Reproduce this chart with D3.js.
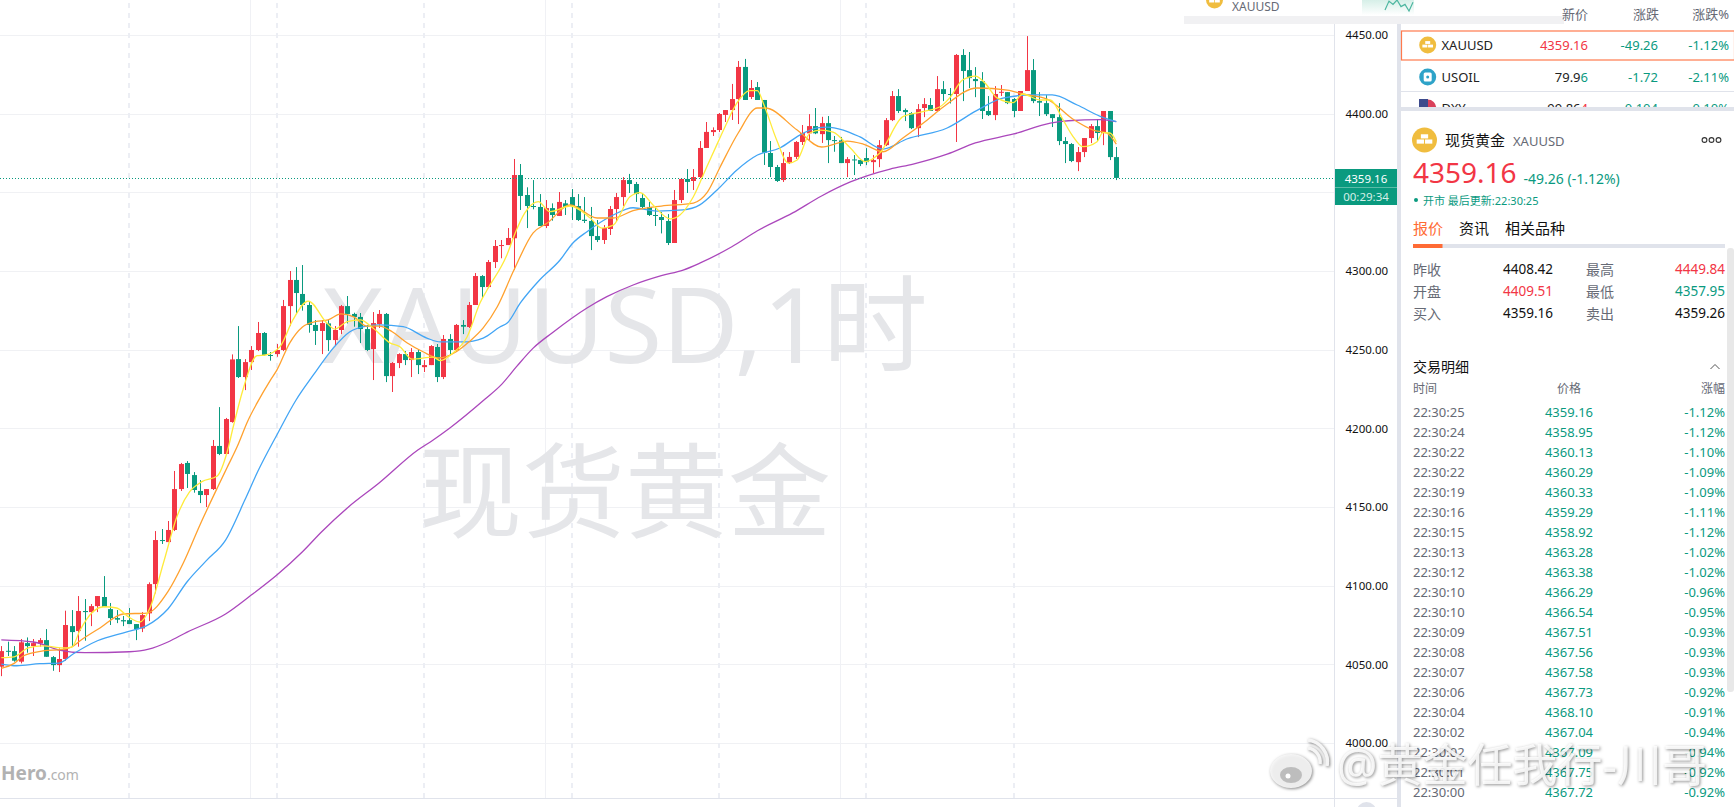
<!DOCTYPE html>
<html>
<head>
<meta charset="utf-8">
<script src="https://cdn.jsdelivr.net/npm/d3@7"></script>
<style>
  html, body { margin: 0; padding: 0; background: #fff; overflow: hidden; }
  svg { display: block; }
  text { font-family: "Noto Sans", "Noto Sans CJK SC", sans-serif; }
</style>
</head>
<body>
<div id="chart"></div>
<script>
// candles, one value per hour bar
const opens = [
  4048.5,4058.6,4058.4,4051.7,4063.5,4061.6,4063.3,4065.4,4054.6,4049.5,
  4053.4,4074.3,4071.2,4083.9,4083.2,4087,4092.8,4085.1,4079.4,4078.1,
  4078.1,4075.6,4072.8,4082.4,4101,4129,4127.7,4135.4,4161.4,4178,
  4170.3,4160.2,4157.6,4161.4,4188.8,4183.7,4204,4244,4232.6,4242.1,
  4249.8,4260.6,4246.6,4247.2,4249.8,4277.7,4294.3,4285.4,4278.4,4265.7,
  4261.9,4266.7,4256.1,4262.5,4277.7,4272.7,4270.8,4263.1,4250.4,4266.3,
  4272.7,4233.2,4241.5,4247.2,4243.4,4248.5,4238.9,4240.2,4251.7,4232.6,
  4256.8,4249.8,4265.7,4264.4,4278.4,4296.8,4289.8,4305.7,4316.1,4316.5,
  4320.8,4361,4348.3,4341.3,4340.7,4328.6,4340,4335,4343,4347,
  4341.3,4332.6,4331.8,4322.2,4319.7,4326.7,4339.4,4347,4357.8,4355.3,
  4346.4,4340.7,4335.6,4334.3,4331.8,4317.8,4345.1,4358.5,4357.2,4359.7,
  4378.2,4388.3,4389.6,4399.2,4402.3,4409.3,4429.7,4410.6,4416.9,4408.7,
  4375,4366.1,4357.8,4368.6,4372.5,4382,4387.5,4392.1,4387,4394,
  4383.2,4383,4368.6,4370.9,4370.5,4371.8,4369.2,4371.1,4380,4395.9,
  4411.2,4402.3,4400.4,4390.8,4403.6,4405.5,4401.7,4415.6,4412.5,4412.5,
  4437.3,4427.7,4422,4420.7,4401.7,4399.1,4413.3,4413.7,4409.3,4401.7,
  4414.4,4427.7,4408,4406.7,4399.7,4397.8,4382.6,4380.7,4369.2,4375.6,
  4384.5,4392.1,4387.7,4401.7,4372.4
];
const highs = [
  4061.6,4064.4,4061.6,4066.1,4067.1,4066.1,4066.7,4072.4,4055.3,4060.1,
  4084.1,4084.5,4093.4,4091.5,4088.3,4093.4,4106.1,4089,4084.5,4080.7,
  4085.8,4075.6,4083.2,4102.1,4134.7,4136,4141.1,4172.9,4178,4179.2,
  4172.2,4167.1,4161.4,4192.6,4213.5,4206.6,4247,4265,4244,4252.3,
  4267.6,4261.2,4248.5,4253.6,4281.6,4300,4302.5,4303.8,4280.9,4268.8,
  4268.8,4268.8,4265,4278.4,4284.1,4273.5,4273.3,4265.7,4273.9,4275.2,
  4273.3,4242.1,4247.7,4249.1,4251,4250.4,4243.4,4252.9,4253.6,4259.3,
  4259.9,4266.3,4268.8,4280.3,4298.7,4297.4,4307,4319.7,4319.7,4327.3,
  4371.2,4368,4353.2,4357.8,4348.9,4345.1,4343,4350.2,4345.1,4352.1,
  4348.9,4347,4340.7,4332.4,4329.2,4341.3,4349.6,4359.7,4361.7,4356.6,
  4348.9,4343.9,4340.7,4337.5,4336.2,4351.5,4359.1,4364.8,4364.8,4382.6,
  4394.7,4391.3,4400.4,4402.3,4418.9,4433.5,4434.8,4421.4,4420.1,4408.7,
  4382.6,4367.4,4375.6,4375.6,4382.6,4392.8,4399.7,4403.6,4398,4398.5,
  4385.8,4385.2,4372.4,4373.7,4370.5,4378.1,4373.7,4383.2,4397.2,4414.4,
  4415.6,4403.3,4401,4406.1,4409.9,4409.9,4423.9,4420.7,4416.3,4437.9,
  4441,4439.2,4429.6,4426.4,4411.2,4417.5,4418.2,4413.7,4409.9,4414.4,
  4449.3,4434.7,4413.7,4411.8,4399.7,4406.7,4385.1,4381.3,4378.8,4384.5,
  4393.4,4396.6,4401.7,4401.7,4378.8
];
const lows = [
  4042.5,4055.3,4051.7,4050.6,4057.4,4055.3,4061.2,4054.8,4045.9,4045.1,
  4052.3,4061.2,4061.2,4065,4074.3,4083.2,4086.4,4075,4076.2,4074.3,
  4075.6,4065.4,4070.5,4077.5,4095.1,4126.5,4127.7,4134.7,4160.2,4162.1,
  4159.1,4152.5,4150,4160.8,4183,4183.7,4203.6,4232,4224.3,4237.1,
  4249.1,4246.2,4243,4245.5,4249.1,4265,4272.7,4274.8,4260.8,4253,
  4247.2,4249.1,4252.3,4259.9,4266.7,4264.6,4254.2,4249.1,4230.7,4263.8,
  4229.4,4223.1,4238.3,4240.2,4232.6,4234.5,4235.8,4240.2,4229.4,4231.3,
  4246.6,4249.1,4259.9,4263.8,4278.4,4282.8,4289.2,4301.9,4308.1,4316.5,
  4300.6,4338.8,4327.3,4339.2,4328.6,4327.3,4332,4335,4335.6,4332.4,
  4331.8,4330.5,4313.3,4318.4,4317.2,4322.9,4331.8,4341.3,4349.6,4343.9,
  4340,4335,4328.6,4323.9,4316.5,4317.8,4343.2,4349.6,4351.5,4359.1,
  4378.2,4385.8,4388.3,4394.7,4396,4393.4,4408.7,4409.3,4408.7,4367.4,
  4359.7,4356.6,4356.6,4368,4371.2,4380.1,4383.2,4387,4381.4,4368.6,
  4375.8,4368.6,4359.7,4361,4366.7,4367.3,4362.2,4366,4379.4,4395.3,
  4400.4,4395.3,4390.2,4385.1,4397.8,4401.7,4401.7,4408,4406.5,4382,
  4408,4416.3,4410.5,4396.6,4398.5,4395.9,4411.2,4406.1,4397.8,4401.7,
  4414.4,4406.7,4398.5,4398.5,4391.5,4380,4368.6,4369.2,4363.5,4372.4,
  4381.3,4382.6,4380,4370.5,4357.8
];
const closes = [
  4058.4,4058,4052.3,4064,4061.6,4063.5,4065.4,4054.8,4049.5,4053.4,
  4075,4070.5,4083.9,4083.2,4087,4093.4,4086.4,4079.4,4078.4,4077.3,
  4075.6,4072.4,4081.3,4101,4129,4128.4,4135.4,4161.4,4177.3,4171,
  4160.8,4157.6,4161.4,4188.8,4183.7,4205.9,4243.8,4232.6,4242.1,4249.8,
  4260.6,4246.6,4246.4,4249.8,4277.7,4294.3,4286,4278.4,4265.7,4261.9,
  4266.9,4256.1,4262.5,4277.7,4272.7,4270.8,4263.1,4249.8,4266.9,4272.7,
  4233.2,4241.5,4247.2,4243.4,4248.5,4240.2,4240.2,4252.3,4232.6,4256.8,
  4249.8,4265.7,4264.6,4278.4,4296.8,4289.8,4305.7,4315.9,4316.5,4321,
  4361,4347.7,4341.3,4340.7,4328.6,4340,4335.6,4343.9,4340.7,4341.3,
  4332.4,4331.8,4322.2,4319.7,4327.3,4339.4,4347,4357.8,4355.3,4348.9,
  4340.7,4335.6,4335.2,4332.4,4317.8,4345.1,4358.5,4356.6,4359.7,4378.2,
  4388.4,4389.6,4399.8,4402.3,4409.3,4429.7,4408.7,4416.3,4408.7,4375.2,
  4366.1,4357.2,4368.6,4372.5,4382,4387.7,4392.1,4387.5,4394,4383.2,
  4382.8,4368.6,4371.1,4370.5,4368,4369.2,4370.5,4380,4395.9,4411.2,
  4401.7,4401,4390.8,4402.9,4406.1,4401.7,4415.6,4412.5,4412,4437.3,
  4427.1,4422.6,4420.7,4401.7,4399.1,4412.5,4413.9,4406.7,4401.7,4414.4,
  4427.7,4408,4407,4399.7,4397.2,4382.6,4380.7,4369.9,4375.6,4384.5,
  4392.1,4387.7,4401.7,4372.4,4359.16
];

// moving averages as [bar, price]
const maYellow = [
  [0,4054.2],[2,4054.8],[4.2,4060.4],[6.5,4061.7],[9.6,4060.4],[11,4061],[12.3,4071.8],[14.1,4082.6],
  [16,4086.6],[18,4085.8],[19.8,4080.3],[21.6,4076.9],[23.2,4085.8],[25.3,4114.4],[27.4,4143.8],[29.4,4159.7],
  [31.3,4166.1],[33.7,4169.7],[35.2,4184.3],[36.2,4201],[37.7,4224.4],[39.9,4246.2],[41.2,4246.6],[43.5,4251.9],
  [45.5,4268.9],[47.9,4280.9],[50.8,4266.9],[52,4263.1],[54,4267.8],[56,4268.9],[58,4263.8],[60.7,4254.2],
  [62.2,4251.9],[64.1,4244],[67.4,4245.3],[68.5,4243],[70.5,4247.9],[72.7,4258.2],[74.7,4279.7],[75.8,4287.9],
  [78.9,4310.2],[80.2,4324.2],[81.7,4336.9],[83.8,4344.1],[85.6,4337.7],[88.8,4341.3],[91.9,4333.7],[93.7,4327.3],
  [95.5,4329.2],[98.1,4347.2],[99.7,4349.8],[101.7,4342],[104.4,4333.1],[105.9,4335.6],[108,4347.2],[110.1,4366.3],
  [112,4383.3],[113,4392.2],[114.8,4406.8],[116.8,4414.6],[118,4414.6],[118.9,4406.8],[121,4383.3],[122.8,4368.6],
  [124.2,4370.6],[126.2,4387.7],[127.8,4389.6],[129.8,4388.3],[132.5,4378.2],[134.8,4369.5],[137.1,4375],[140.7,4398.1],
  [143.8,4401.3],[146.5,4404.4],[148,4410],[150,4421.4],[152,4423.9],[153.5,4419.5],[155.4,4410],[157.9,4407],
  [159.4,4412.5],[162.1,4408.7],[163.7,4408.7],[165.7,4396],[167.1,4386.4],[168.8,4379],[171,4382.2],[171.9,4387.9],
  [173,4387.7],[174,4382.2]
];
const maOrange = [
  [0,4047.5],[2,4050.6],[3.4,4055.3],[6.5,4058.5],[9.6,4059.5],[11,4061],[12.3,4065],[15.4,4073.1],
  [19,4082],[22.7,4082.6],[26,4096.2],[28.4,4114.4],[31,4138.6],[33.7,4162.1],[35.2,4174.8],[36.8,4188.3],
  [38.5,4205],[39.9,4216],[42,4230.7],[43,4237],[45,4254.2],[47,4264.4],[49,4267.8],[51,4268.9],
  [53,4272.7],[55,4270.8],[57,4265],[59,4265],[61,4261.4],[63.3,4254.4],[65.8,4248.7],[68.2,4244.7],
  [71,4248.7],[73,4255],[75.2,4263.8],[77.4,4277.3],[80,4300.6],[83,4324.2],[85.2,4330.5],[88.8,4342],
  [93,4333.7],[95.5,4333.7],[98.6,4338.3],[103,4341.3],[108,4343.2],[110.1,4349.6],[112.2,4366.3],[115,4387.7],
  [118,4403.6],[119.2,4403.6],[124.2,4389.6],[128,4378.8],[132,4382.6],[134.5,4380.7],[137.6,4375.8],[140.7,4384.5],
  [144.5,4396],[147,4404.2],[152.3,4416.3],[157,4415],[159.4,4412.5],[163.2,4409.3],[167.2,4396.6],[170.4,4389.6],
  [172.5,4387.7],[174,4380.7]
];
const maBlue = [
  [0,4050.2],[2.4,4049.1],[6,4050.4],[9,4050.8],[11.2,4056.6],[15,4065],[19.6,4070.7],[22.7,4074.6],
  [26,4085.2],[29,4102.5],[32,4115.9],[35,4129],[38,4154.4],[40,4172.4],[43,4195.8],[46,4218],
  [48.7,4233.9],[51.8,4251],[54.4,4261.4],[57,4265],[59,4265.7],[62.7,4264.6],[66.4,4257.4],[68.5,4254.9],
  [72,4254.9],[75.2,4257.4],[77.8,4264.4],[79,4267.1],[81,4279.7],[84,4294.3],[87.2,4307],[89.2,4317.8],
  [91.4,4325],[95.5,4335.6],[98.6,4340.2],[102.3,4338.1],[106.4,4338.8],[109,4342],[111.7,4351.5],[114.8,4364.2],
  [118,4373.7],[121.5,4378.2],[124.6,4386.4],[127.3,4390.9],[128.8,4391.5],[131.4,4389.6],[134,4385.2],[137.6,4377.5],
  [141.3,4383.9],[147.6,4390.9],[152.2,4401.9],[156.3,4409.9],[161,4411.9],[164,4411.9],[167.9,4405.5],[171.4,4398.5],
  [174,4394.9]
];
const maPurple = [
  [0,4065.5],[5,4064.2],[9,4059.1],[13,4057.4],[20,4058],[23,4059.6],[26,4064.2],[29,4070.5],
  [35,4082],[39,4094],[43,4106.8],[47,4121.6],[50,4134.3],[54,4149.4],[59,4165.4],[65,4186.2],
  [67.4,4192.6],[70,4200.2],[75.5,4218.6],[78,4227.6],[80.4,4239.2],[83,4251],[86,4260.8],[91.4,4276.5],
  [94.5,4283.7],[98.6,4291.1],[103,4297],[106.4,4300.6],[109,4305],[114,4315.4],[118,4325.6],[123.5,4336.9],
  [128,4347.7],[132.5,4356.6],[138.7,4364.8],[142.3,4368],[147.6,4374.3],[152,4381.4],[158,4387.1],[163.7,4394],
  [166.5,4395.5],[171.5,4396.2],[174,4394.9]
];

const priceTicks = [4000,4050,4100,4150,4200,4250,4300,4350,4400,4450];
const dayBars = [20,43,66,89,112,135,158];
const weekBars = [39,85,131];
const lastPrice = 4359.16;
const countdown = "00:29:34";

// right hand panels
const quoteNames = ["XAUUSD","USOIL","DXY"];
const quoteHead = ["79.9","99.86"];
const quoteTail = ["6","4"];
const quoteChange = ["-49.26","-1.72","0.104"];
const quotePct = ["-1.12%","-2.11%","0.10%"];
const statLeft = [["昨收","4408.42","#111"],["开盘","4409.51","#f23645"],["买入","4359.16","#111"]];
const statRight = [["最高","4449.84","#f23645"],["最低","4357.95","#0a9a7f"],["卖出","4359.26","#111"]];
const tradeTimes = ["22:30:25","22:30:24","22:30:22","22:30:22","22:30:19","22:30:16","22:30:15","22:30:13","22:30:12","22:30:10","22:30:10","22:30:09","22:30:08","22:30:07","22:30:06","22:30:04","22:30:02","22:30:02","22:30:01","22:30:00"];
const tradePrices = ["4359.16","4358.95","4360.13","4360.29","4360.33","4359.29","4358.92","4363.28","4363.38","4366.29","4366.54","4367.51","4367.56","4367.58","4367.73","4368.10","4367.04","4367.09","4367.75","4367.72"];
const tradePcts = ["-1.12%","-1.12%","-1.10%","-1.09%","-1.09%","-1.11%","-1.12%","-1.02%","-1.02%","-0.96%","-0.95%","-0.93%","-0.93%","-0.93%","-0.92%","-0.91%","-0.94%","-0.94%","-0.92%","-0.92%"];
const sparkValues = [9,1,4,0,6,4,10,2];

const width = 1734;
const height = 807;
const red = "#f23645";
const green = "#0a9a7f";
const grey = "#666a75";
const line = "#e0e3eb";

const svg = d3
  .select("#chart")
  .append("svg")
  .attr("width", width)
  .attr("height", height);

const x = d3.scaleLinear().domain([0, 174]).range([1.3, 1116.3]);
const y = d3.scaleLinear().domain([4000, 4450]).range([743, 35]);

const label = (parent, px, py, txt, size, fill, anchor) =>
  parent
    .append("text")
    .attr("x", px)
    .attr("y", py)
    .attr("font-size", size)
    .attr("fill", fill)
    .attr("text-anchor", anchor || "start")
    .attr("dominant-baseline", "central")
    .text(txt);

// grid
const grid = svg.append("g");
grid
  .selectAll(".h")
  .data(priceTicks)
  .join("line")
  .attr("x1", 0)
  .attr("x2", 1334)
  .attr("y1", (d) => Math.round(y(d)) + 0.5)
  .attr("y2", (d) => Math.round(y(d)) + 0.5)
  .attr("stroke", "#f0f1f4");
grid
  .selectAll(".w")
  .data(weekBars)
  .join("line")
  .attr("x1", (d) => Math.round(x(d)) - 0.5)
  .attr("x2", (d) => Math.round(x(d)) - 0.5)
  .attr("y1", 0)
  .attr("y2", 798)
  .attr("stroke", "#f0f1f5");
grid
  .selectAll(".d")
  .data(dayBars)
  .join("line")
  .attr("x1", (d) => Math.round(x(d)))
  .attr("x2", (d) => Math.round(x(d)))
  .attr("y1", 3)
  .attr("y2", 798)
  .attr("stroke", "#eceef4")
  .attr("stroke-width", 2)
  .attr("stroke-dasharray", "5 5");

// big faint titles sit under the candles
const titles = svg.append("g").attr("fill", "#e5e6e9").attr("text-anchor", "middle");
titles.append("text").attr("x", 625).attr("y", 363).attr("font-size", 105).text("XAUUSD,1时");
titles.append("text").attr("x", 625).attr("y", 530).attr("font-size", 103).text("现货黄金");

const hero = svg.append("text").attr("x", 1).attr("y", 780).attr("fill", "#b2b2b2");
hero.append("tspan").attr("font-size", 19).attr("font-weight", 700).text("Hero");
hero.append("tspan").attr("font-size", 14).text(".com");

// candles
const bars = d3.range(opens.length);
const candles = svg.append("g");
candles
  .selectAll(".wick")
  .data(bars)
  .join("rect")
  .attr("x", (i) => Math.round(x(i)))
  .attr("width", 1)
  .attr("y", (i) => y(highs[i]))
  .attr("height", (i) => y(lows[i]) - y(highs[i]))
  .attr("fill", (i) => (closes[i] >= opens[i] ? red : green));
candles
  .selectAll(".body")
  .data(bars)
  .join("rect")
  .attr("x", (i) => Math.round(x(i)) - 2)
  .attr("width", 5)
  .attr("y", (i) => y(Math.max(opens[i], closes[i])))
  .attr("height", (i) => Math.max(1, Math.abs(y(opens[i]) - y(closes[i]))))
  .attr("fill", (i) => (closes[i] >= opens[i] ? red : green));

// moving averages
const maLine = d3
  .line()
  .x((d) => x(d[0]))
  .y((d) => y(d[1]))
  .curve(d3.curveMonotoneX);
const maSeries = [
  [maPurple, "#ab47bc"],
  [maBlue, "#42a5f5"],
  [maOrange, "#ffa12e"],
  [maYellow, "#ffeb3b"],
];
svg
  .append("g")
  .selectAll("path")
  .data(maSeries)
  .join("path")
  .attr("d", (d) => maLine(d[0]))
  .attr("fill", "none")
  .attr("stroke", (d) => d[1])
  .attr("stroke-width", 1.3);

// last price line
svg
  .append("line")
  .attr("x1", 0)
  .attr("x2", 1334)
  .attr("y1", Math.round(y(lastPrice)) + 0.5)
  .attr("y2", Math.round(y(lastPrice)) + 0.5)
  .attr("stroke", green)
  .attr("stroke-dasharray", "1 2");

// price axis
svg.append("rect").attr("x", 1335).attr("y", 24).attr("width", 62).attr("height", 783).attr("fill", "#fff");
const axis = svg
  .append("g")
  .attr("transform", "translate(1334.5,0)")
  .call(
    d3
      .axisRight(y)
      .tickValues(priceTicks)
      .tickSize(0)
      .tickPadding(11)
      .tickFormat((d) => d3.format(".2f")(d))
  );
axis.select(".domain").remove();
axis.selectAll("text").attr("font-size", 11.5).attr("fill", "#111").style("font-family", '"Noto Sans", sans-serif');

svg.append("line").attr("x1", 1334.5).attr("x2", 1334.5).attr("y1", 24).attr("y2", 807).attr("stroke", line);
svg.append("line").attr("x1", 0).attr("x2", 1397).attr("y1", 798.5).attr("y2", 798.5).attr("stroke", line);
svg.append("circle").attr("cx", 1366.5).attr("cy", 812).attr("r", 10).attr("fill", line);

svg.append("rect").attr("x", 1335).attr("y", 169).attr("width", 62).attr("height", 36).attr("fill", green);
svg.append("line").attr("x1", 1335).attr("x2", 1397).attr("y1", 187.5).attr("y2", 187.5).attr("stroke", "#5bbba7");
label(svg, 1366, 178, d3.format(".2f")(lastPrice), 11.5, "#fff", "middle");
label(svg, 1366, 196, countdown, 11.5, "#d5efe8", "middle");

// top strip and the panel bars
svg.append("rect").attr("x", 1184).attr("y", 16).attr("width", 380).attr("height", 8).attr("fill", "#f1f1f3");
svg.append("rect").attr("x", 1397).attr("y", 24).attr("width", 4).attr("height", 783).attr("fill", line);

const sparkFill = svg.append("defs").append("linearGradient").attr("id", "spark").attr("x1", 0).attr("x2", 0).attr("y1", 0).attr("y2", 1);
sparkFill.append("stop").attr("offset", 0).attr("stop-color", "#d6efe8");
sparkFill.append("stop").attr("offset", 1).attr("stop-color", "#fff");
svg.append("rect").attr("x", 1362).attr("y", 0).attr("width", 52).attr("height", 15).attr("fill", "url(#spark)");
const sparkX = d3.scaleLinear().domain([0, sparkValues.length - 1]).range([1385, 1413]);
const sparkY = d3.scaleLinear().domain([0, 10]).range([11, 0]);
svg
  .append("path")
  .attr("d", d3.line().x((d, i) => sparkX(i)).y((d) => sparkY(10 - d))(sparkValues))
  .attr("fill", "none")
  .attr("stroke", "#4db6a0")
  .attr("stroke-width", 1.2);

// gold icon
const goldIcon = (cx, cy, r) => {
  const g = svg.append("g").attr("transform", `translate(${cx},${cy}) scale(${r / 12})`);
  g.append("circle").attr("r", 12).attr("fill", "#f0bd3f");
  g.append("rect").attr("x", -3.5).attr("y", -5.5).attr("width", 7).attr("height", 4).attr("fill", "#fff");
  g.append("rect").attr("x", -7.5).attr("y", -0.5).attr("width", 7).attr("height", 4).attr("fill", "#fff");
  g.append("rect").attr("x", 0.5).attr("y", -0.5).attr("width", 7).attr("height", 4).attr("fill", "#fff");
};

goldIcon(1214.5, 0, 8.5);
label(svg, 1232, 6, "XAUUSD", 12, grey);

label(svg, 1588, 14, "新价", 13, grey, "end");
label(svg, 1659, 14, "涨跌", 13, grey, "end");
label(svg, 1729, 14, "涨跌%", 13, grey, "end");

// quote rows
svg.append("rect").attr("x", 1401.5).attr("y", 31).attr("width", 333).attr("height", 29).attr("fill", "#fff").attr("stroke", "#ff7a4d").attr("stroke-width", 1.2);
svg.append("line").attr("x1", 1401).attr("x2", 1734).attr("y1", 91.5).attr("y2", 91.5).attr("stroke", line);

goldIcon(1427.7, 45, 8.5);
label(svg, 1441.5, 45, quoteNames[0], 13, "#222");
label(svg, 1588, 45, "4359.16", 13, red, "end");
label(svg, 1658, 45, quoteChange[0], 13, green, "end");
label(svg, 1729, 45, quotePct[0], 13, green, "end");

svg.append("circle").attr("cx", 1427.7).attr("cy", 77).attr("r", 8.5).attr("fill", "#2ea3c8");
svg.append("rect").attr("x", 1423.7).attr("y", 72.5).attr("width", 8).attr("height", 9).attr("rx", 1.5).attr("fill", "#fff");
svg.append("circle").attr("cx", 1427.7).attr("cy", 77).attr("r", 1.5).attr("fill", "#2ea3c8");
label(svg, 1441.5, 77, quoteNames[1], 13, "#222");
const oil = label(svg, 1588, 77, "", 13, "#222", "end");
oil.append("tspan").text(quoteHead[0]);
oil.append("tspan").attr("fill", green).text(quoteTail[0]);
label(svg, 1658, 77, quoteChange[1], 13, green, "end");
label(svg, 1729, 77, quotePct[1], 13, green, "end");

// third row is cut by the panel under it
svg.append("defs").append("clipPath").attr("id", "row3").append("rect").attr("x", 1401).attr("y", 92).attr("width", 333).attr("height", 15);
const row3 = svg.append("g").attr("clip-path", "url(#row3)");
row3.append("circle").attr("cx", 1427.7).attr("cy", 108).attr("r", 8.5).attr("fill", "#d9405a");
row3.append("rect").attr("x", 1419).attr("y", 99).attr("width", 9).attr("height", 9).attr("fill", "#3c4a8c");
label(row3, 1441.5, 108, quoteNames[2], 13, "#222");
const dxy = label(row3, 1588, 108, "", 13, "#222", "end");
dxy.append("tspan").text(quoteHead[1]);
dxy.append("tspan").attr("fill", red).text(quoteTail[1]);
label(row3, 1658, 108, quoteChange[2], 13, green, "end");
label(row3, 1729, 108, quotePct[2], 13, green, "end");

svg.append("rect").attr("x", 1401).attr("y", 107).attr("width", 333).attr("height", 4).attr("fill", line);

// symbol header
goldIcon(1424.5, 140, 12.5);
label(svg, 1445, 140, "现货黄金", 15, "#111");
label(svg, 1513, 141, "XAUUSD", 13, grey);
svg
  .append("g")
  .selectAll("circle")
  .data([1704.5, 1711.5, 1718.5])
  .join("circle")
  .attr("cx", (d) => d)
  .attr("cy", 140)
  .attr("r", 2.4)
  .attr("fill", "none")
  .attr("stroke", "#333")
  .attr("stroke-width", 1.1);

label(svg, 1413, 172, "4359.16", 28, red);
label(svg, 1523.5, 178, "-49.26 (-1.12%)", 14, green);
svg.append("circle").attr("cx", 1416).attr("cy", 200).attr("r", 2).attr("fill", green);
label(svg, 1423, 200, "开市 最后更新:22:30:25", 11, green);

label(svg, 1413, 228, "报价", 15, "#ff6b35");
label(svg, 1459, 228, "资讯", 15, "#111");
label(svg, 1505, 228, "相关品种", 15, "#111");
svg.append("rect").attr("x", 1413).attr("y", 244).attr("width", 312).attr("height", 4).attr("fill", line);
svg.append("rect").attr("x", 1413).attr("y", 244).attr("width", 29.5).attr("height", 4).attr("fill", "#ff6b35");
svg.append("rect").attr("x", 1727).attr("y", 248).attr("width", 7).attr("height", 444).attr("rx", 3).attr("fill", "#e8e8e8");

// stats
statLeft.forEach((d, i) => {
  label(svg, 1413, 269 + i * 22, d[0], 14, grey);
  label(svg, 1503, 269 + i * 22, d[1], 13.5, d[2]);
});
statRight.forEach((d, i) => {
  label(svg, 1586, 269 + i * 22, d[0], 14, grey);
  label(svg, 1725, 269 + i * 22, d[1], 13.5, d[2], "end");
});

// trade list
label(svg, 1413, 366, "交易明细", 14, "#111");
svg.append("path").attr("d", "M1710.5 369 L1715 364.5 L1719.5 369").attr("fill", "none").attr("stroke", "#555");
label(svg, 1413, 388, "时间", 12, grey);
label(svg, 1569, 388, "价格", 12, grey, "middle");
label(svg, 1725, 388, "涨幅", 12, grey, "end");
tradeTimes.forEach((t, i) => {
  const rowY = 412.3 + i * 20;
  label(svg, 1413, rowY, t, 13, grey);
  label(svg, 1569, rowY, tradePrices[i], 13, green, "middle");
  label(svg, 1725, rowY, tradePcts[i], 13, green, "end");
});

// weibo mark, over everything
const mark = svg.append("g").style("filter", "drop-shadow(1px 1px 1.5px rgba(0,0,0,0.5))");
mark.append("ellipse").attr("cx", 1291).attr("cy", 771).attr("rx", 21).attr("ry", 17).attr("fill", "#f7f7f7").attr("opacity", 0.9);
mark.append("ellipse").attr("cx", 1291).attr("cy", 775).attr("rx", 11).attr("ry", 8).attr("fill", "#bdbdbd");
mark.append("circle").attr("cx", 1288).attr("cy", 776).attr("r", 2.5).attr("fill", "#fff");
mark.append("path").attr("d", "M1308 748 A14 14 0 0 1 1320 764").attr("fill", "none").attr("stroke", "#f5f5f5").attr("stroke-width", 3.5);
mark.append("path").attr("d", "M1308 740 A22 22 0 0 1 1327 766").attr("fill", "none").attr("stroke", "#f5f5f5").attr("stroke-width", 3.5);
mark
  .append("text")
  .attr("x", 1337)
  .attr("y", 782)
  .attr("font-size", 45)
  .attr("fill", "#fff")
  .attr("fill-opacity", 0.85)
  .text("@黄金任我行-川哥");
</script>
</body>
</html>
